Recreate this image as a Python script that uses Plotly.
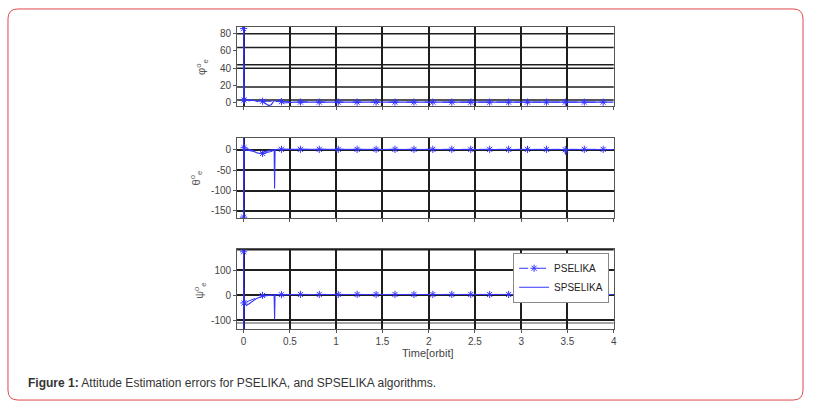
import plotly.graph_objects as go

# ---------------- data ----------------
x_ticks = [0, 0.5, 1, 1.5, 2, 2.5, 3, 3.5, 4]
x_tick_labels = ["0", "0.5", "1", "1.5", "2", "2.5", "3", "3.5", "4"]

y1_ticks = [0, 20, 40, 60, 80]
y1_labels = ["0", "20", "40", "60", "80"]
y2_ticks = [-150, -100, -50, 0]
y2_labels = ["-150", "-100", "-50", "0"]
y3_ticks = [-100, 0, 100]
y3_labels = ["-100", "0", "100"]

# horizontal grid lines seen in the (scanned) panels
y1_grid = [80, 64, 44, 40, 18, 3]
y3_grid_gray = [-110]
y3_grid_top = [183]

# PSELIKA (dashed with markers)
t_ps = [0, 0.004, 0.205, 0.409, 0.614, 0.818, 1.023, 1.227, 1.432, 1.636, 1.841,
        2.045, 2.25, 2.455, 2.659, 2.864, 3.068, 3.273, 3.477, 3.682, 3.886]
phi_ps = [86, 3, 1.5, 1, 0.5, 0.5, 0.5, 0.5, 0.5, 0.5, 0.5,
          0.5, 0.5, 0.5, 0.5, 0.5, 0.5, 0.5, 0.5, 0.5, 0.5]
theta_ps = [-165, 5, -9, 1, 1, 1, 1, 1, 1, 1, 1,
            1, 1, 1, 1, 1, 1, 1, 0, 1, 1]
psi_ps = [175, -30, 0, 3, 4, 4, 4, 4, 4, 4, 4,
          4, 4, 4, 4, 4, 4, 4, 5, 4, 4]

# SPSELIKA (solid)
t_sp1 = [0, 0.003, 0.006, 0.03, 0.06, 0.09, 0.12, 0.15, 0.18, 0.21, 0.24, 0.27,
         0.3, 0.33, 0.36, 0.39, 0.43, 0.47, 0.55, 1.0, 1.5, 2.0, 2.5, 3.0, 3.5, 4.0]
phi_sp = [-2, 86, 3, 4, 2, 3.5, 2.5, 1, 3, 0.5, -2, -3.5,
          -2.5, 2.5, 1, 2, -0.5, 0, 0.5, 0.5, 0.5, 0.5, 0.5, 0.5, 0.5, 0.5]

t_sp2 = [0, 0.002, 0.006, 0.02, 0.05, 0.08, 0.11, 0.14, 0.17, 0.2, 0.23, 0.26,
         0.3, 0.33, 0.335, 0.34, 0.37, 0.45, 1.0, 1.5, 2.0, 2.5, 3.0, 3.47, 3.48,
         3.49, 4.0]
theta_sp = [30, -165, 7, 0, -1, -2, -4, -7, -9, -6, -4, -2,
            -1, 0, -95, 0, 1, 1, 0.5, 0.5, 0.5, 0.5, 0.5, 0.5, -12,
            0.5, 0.5]

t_sp3 = [0, 0.002, 0.006, 0.015, 0.03, 0.06, 0.1, 0.14, 0.18, 0.22, 0.26, 0.3,
         0.33, 0.335, 0.34, 0.4, 0.5, 1.0, 1.5, 2.0, 2.5, 3.0, 3.47, 3.48, 3.49, 4.0]
psi_sp = [175, -136, 0, -30, -40, -33, -22, -12, -6, -2, 0, 2,
          2, -95, 3, 4, 4, 4, 4, 4, 4, 4, 4, 12, 4, 4]

caption_bold = "Figure 1:"
caption_text = " Attitude Estimation errors for PSELIKA, and SPSELIKA algorithms."

# ---------------- figure ----------------
W, H = 813, 410
BLUE = "#3535ff"
FONT = "Arial, Liberation Sans"
GRID = "#1e1e1e"

def px(x):
    return x / W

def py(y):
    return 1 - y / H

fig = go.Figure()

panels = [
    (t_ps, phi_ps, t_sp1, phi_sp, "x", "y"),
    (t_ps, theta_ps, t_sp2, theta_sp, "x2", "y2"),
    (t_ps, psi_ps, t_sp3, psi_sp, "x3", "y3"),
]
for i, (tp, vp, ts, vs, xa, ya) in enumerate(panels):
    last = i == 2
    fig.add_trace(go.Scatter(
        x=ts, y=vs, mode="lines", name="SPSELIKA", xaxis=xa, yaxis=ya,
        line=dict(color=BLUE, width=1.1), showlegend=last, legendrank=2))
    fig.add_trace(go.Scatter(
        x=tp, y=vp, mode="lines+markers", name="PSELIKA", xaxis=xa, yaxis=ya,
        line=dict(color=BLUE, width=1, dash="dash"),
        marker=dict(symbol="asterisk-open", size=6, color=BLUE,
                    line=dict(color=BLUE, width=1)),
        showlegend=last, legendrank=1))

xdom = [px(238), px(616)]
xr = [-0.07, 4.0]
doms = [[py(107), py(27)], [py(219), py(139)], [py(331), py(250)]]
yranges = [[-4.6, 88], [-167, 28], [-136, 187]]
yticks = [(y1_ticks, y1_labels), (y2_ticks, y2_labels), (y3_ticks, y3_labels)]

axis_common = dict(showline=True, mirror=True, linecolor="#555", linewidth=1,
                   gridcolor=GRID, gridwidth=1.5, zeroline=False,
                   ticks="outside", ticklen=3, tickcolor="#555",
                   tickfont=dict(family=FONT, size=10, color="#444"))

layout = dict(width=W, height=H, margin=dict(l=0, r=0, t=0, b=0, pad=0),
              paper_bgcolor="white", plot_bgcolor="white", showlegend=True)

for i in range(3):
    xk = "xaxis" if i == 0 else f"xaxis{i+1}"
    yk = "yaxis" if i == 0 else f"yaxis{i+1}"
    xname = "x" if i == 0 else f"x{i+1}"
    yname = "y" if i == 0 else f"y{i+1}"
    layout[xk] = dict(axis_common, domain=xdom, range=xr, anchor=yname,
                      tickvals=x_ticks, ticktext=x_tick_labels,
                      showticklabels=(i == 2), fixedrange=True)
    layout[yk] = dict(axis_common, domain=doms[i], range=yranges[i], anchor=xname,
                      tickvals=yticks[i][0], ticktext=yticks[i][1], fixedrange=True,
                      showgrid=(i != 0))

layout["legend"] = dict(x=px(515), y=py(254), xanchor="left", yanchor="top",
                        bgcolor="white", bordercolor="#888", borderwidth=1,
                        font=dict(family=FONT, size=10, color="#222"),
                        itemwidth=30, tracegroupgap=0, traceorder="normal")
fig.update_layout(**layout)

# extra horizontal grid lines (drawn below the data)
for v in y1_grid:
    fig.add_shape(type="line", xref="x domain", yref="y", x0=0, x1=1, y0=v, y1=v,
                  line=dict(color=GRID, width=1.5), layer="below")
for v in y3_grid_gray:
    fig.add_shape(type="line", xref="x3 domain", yref="y3", x0=0, x1=1, y0=v, y1=v,
                  line=dict(color="#888", width=1.5), layer="below")
for v in y3_grid_top:
    fig.add_shape(type="line", xref="x3 domain", yref="y3", x0=0, x1=1, y0=v, y1=v,
                  line=dict(color=GRID, width=1.5), layer="below")

# y-axis labels and x-axis title
ylabels = ["φ<sup>o</sup><sub>e</sub>", "θ<sup>o</sup><sub>e</sub>", "ψ<sup>o</sup><sub>e</sub>"]
ylab_pos = [(202, 67), (197, 179), (200, 292)]
for lab, (lx, ly) in zip(ylabels, ylab_pos):
    fig.add_annotation(x=px(lx), y=py(ly), xref="paper", yref="paper", text=lab,
                       xanchor="center", yanchor="middle",
                       showarrow=False, textangle=-90,
                       font=dict(family=FONT, size=11, color="#555"))
fig.add_annotation(x=px(430), y=py(355), xref="paper", yref="paper", text="Time[orbit]",
                   xanchor="center", yanchor="middle",
                   showarrow=False, font=dict(family=FONT, size=11, color="#444"))

# caption
fig.add_annotation(x=px(26), y=py(385), xref="paper", yref="paper", xanchor="left",
                   yanchor="middle",
                   text=f"<b>{caption_bold}</b>{caption_text}", showarrow=False,
                   font=dict(family=FONT, size=12, color="#333"))

# rounded card border
x0, x1, yt, yb = px(8), px(806), py(9), py(402)
rx, ry = 10 / W, 10 / H
path = (f"M {x0+rx},{yt} L {x1-rx},{yt} Q {x1},{yt} {x1},{yt-ry} "
        f"L {x1},{yb+ry} Q {x1},{yb} {x1-rx},{yb} L {x0+rx},{yb} "
        f"Q {x0},{yb} {x0},{yb+ry} L {x0},{yt-ry} Q {x0},{yt} {x0+rx},{yt} Z")
fig.add_shape(type="path", path=path, xref="paper", yref="paper",
              line=dict(color="#e0484c", width=1))

fig.write_html("out.html", config={"displayModeBar": False},
               post_script="document.body.style.margin='0';document.body.style.overflow='hidden';")
